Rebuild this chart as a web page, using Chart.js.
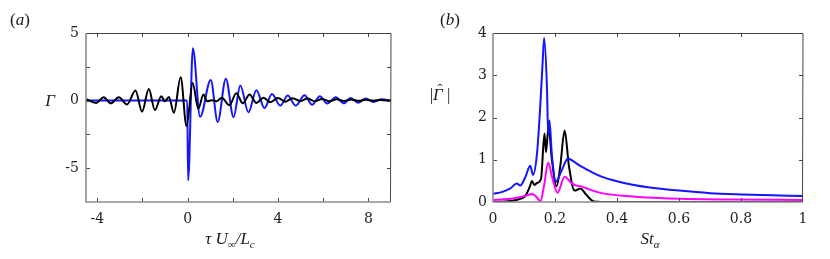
<!DOCTYPE html>
<html>
<head>
<meta charset="utf-8">
<script src="https://cdn.jsdelivr.net/npm/chart.js@4.4.0/dist/chart.umd.min.js"></script>
<style>
  html, body { margin: 0; padding: 0; background: #fff; }
  #wrap { position: relative; width: 830px; height: 259px; }
  .panel { position: absolute; top: 0; width: 415px; height: 259px; }
  #pa { left: 0; }
  #pb { left: 415px; }
</style>
</head>
<body>
<div id="wrap">
  <div class="panel" id="pa"><canvas id="chartA" width="415" height="259"></canvas></div>
  <div class="panel" id="pb"><canvas id="chartB" width="415" height="259"></canvas></div>
</div>
<script>
// (a) response in time, tau U/Lc
const tauBlack = [-4.5, -4.05, -3.72, -3.4, -3.05, -2.68, -2.31, -2.02, -1.72, -1.45, -1.17, -1.01, -0.83, -0.61,
  -0.31, -0.05, 0.22, 0.47, 0.7, 0.86, 1.08, 1.29, 1.51, 1.85, 2.15, 2.44, 2.74, 3.04, 3.36, 3.66, 4.0, 4.32,
  4.65, 4.98, 5.3, 5.62, 5.95, 6.28, 6.6, 6.92, 7.25, 7.58, 7.9, 8.22, 8.55, 8.85, 9.0];
const gammaBlack = [0.12, -0.17, 0.25, -0.2, 0.25, -0.28, 0.75, -0.82, 0.85, -0.7, 0.32, -0.05, 0.27, -0.9,
  1.72, -1.88, 1.3, -0.6, 0.45, -0.05, 0.02, -0.05, 0.22, -0.35, 0.55, -0.2, 0.45, -0.17, 0.22, -0.12, 0.2, -0.08,
  0.18, -0.05, 0.15, -0.05, 0.12, -0.04, 0.1, -0.03, 0.08, -0.02, 0.06, -0.01, 0.05, 0.0, 0.02];

const tauBlue = [-4.5, -0.02, 0.02, 0.23, 0.55, 1.02, 1.33, 1.69, 2.03, 2.33, 2.69, 3.04, 3.4, 3.73, 4.1, 4.43,
  4.78, 5.17, 5.51, 5.85, 6.18, 6.55, 6.92, 7.21, 7.54, 7.88, 8.22, 8.58, 9.0];
const gammaBlue = [0, 0, -5.9, 3.88, -1.2, 1.52, -1.58, 1.62, -1.22, 1.12, -0.87, 0.77, -0.55, 0.48, -0.37, 0.37,
  -0.37, 0.4, -0.3, 0.32, -0.22, 0.25, -0.2, 0.2, -0.15, 0.15, -0.1, 0.1, -0.02];

const xLabelsA = [-4, 0, 4, 8];
const yLabelsA = [5, 0, -5];

// (b) spectra vs St_alpha
const stBlue = [0, 0.03, 0.056, 0.077, 0.088, 0.105, 0.12, 0.129, 0.142, 0.153, 0.16, 0.165, 0.174, 0.178, 0.182,
  0.19, 0.203, 0.22, 0.242, 0.26, 0.28, 0.3, 0.32, 0.35, 0.4, 0.45, 0.5, 0.6, 0.7, 0.8, 0.9, 1.0];
const specBlue = [0.19, 0.24, 0.32, 0.44, 0.39, 0.6, 0.86, 0.64, 1.15, 2.34, 3.29, 3.88, 2.73, 1.6, 1.93,
  1.1, 0.48, 0.72, 1.03, 0.96, 0.86, 0.78, 0.7, 0.6, 0.49, 0.41, 0.35, 0.27, 0.21, 0.18, 0.16, 0.14];

const stBlack = [0, 0.04, 0.07, 0.09, 0.105, 0.118, 0.126, 0.133, 0.142, 0.155, 0.166, 0.171, 0.179, 0.19, 0.205,
  0.217, 0.231, 0.245, 0.263, 0.282, 0.3, 0.325, 0.35, 0.5, 0.75, 1.0];
const specBlack = [0, 0.01, 0.04, 0.08, 0.15, 0.35, 0.5, 0.4, 0.45, 0.55, 1.62, 1.18, 1.78, 1.0, 0.37,
  0.85, 1.69, 0.85, 0.27, 0.32, 0.18, 0.01, 0, 0, 0, 0];

const stMagenta = [0, 0.05, 0.09, 0.11, 0.126, 0.14, 0.153, 0.165, 0.178, 0.192, 0.208, 0.231, 0.25, 0.265, 0.285,
  0.31, 0.35, 0.45, 0.55, 0.75, 1.0];
const specMagenta = [0.05, 0.07, 0.12, 0.16, 0.19, 0.12, 0.02, 0.4, 0.93, 0.55, 0.22, 0.6, 0.47, 0.4, 0.37,
  0.3, 0.21, 0.13, 0.09, 0.06, 0.05];

const pts = (xs, ys) => xs.map((x, i) => ({ x: x, y: ys[i] }));

const tickFont = { family: "'DejaVu Serif', serif", size: 14 };
const mathFont = "'Liberation Serif', 'DejaVu Serif', serif";

// box with inward tick marks on all four sides
const frame = {
  id: 'frame',
  afterDatasetsDraw(chart) {
    const { ctx, chartArea: a, scales: { x, y } } = chart;
    ctx.save();
    ctx.strokeStyle = '#444';
    ctx.lineWidth = 1;
    ctx.beginPath();
    x.ticks.forEach(t => {
      const px = Math.round(x.getPixelForValue(t.value)) + 0.5;
      if (px <= a.left + 1 || px >= a.right - 1) return;
      ctx.moveTo(px, a.bottom); ctx.lineTo(px, a.bottom - 4);
      ctx.moveTo(px, a.top); ctx.lineTo(px, a.top + 4);
    });
    y.ticks.forEach(t => {
      const py = Math.round(y.getPixelForValue(t.value)) + 0.5;
      if (py <= a.top + 1 || py >= a.bottom - 1) return;
      ctx.moveTo(a.left, py); ctx.lineTo(a.left + 4, py);
      ctx.moveTo(a.right, py); ctx.lineTo(a.right - 4, py);
    });
    ctx.stroke();
    // top / right thin dark
    ctx.beginPath();
    ctx.moveTo(a.left, a.top + 0.5); ctx.lineTo(a.right, a.top + 0.5);
    ctx.lineTo(a.right - 0.5, a.bottom);
    ctx.stroke();
    // left / bottom a bit heavier, grey
    ctx.strokeStyle = '#8c8c8c';
    ctx.lineWidth = 1.6;
    ctx.beginPath();
    ctx.moveTo(a.left, a.top); ctx.lineTo(a.left, a.bottom); ctx.lineTo(a.right, a.bottom);
    ctx.stroke();
    ctx.restore();
  }
};

// runs: [text, size, italic, dy]; returns x positions of each run
function drawRuns(ctx, runs, cx, base) {
  ctx.textAlign = 'left';
  let w = 0;
  runs.forEach(r => {
    ctx.font = (r[2] ? 'italic ' : '') + r[1] + 'px ' + mathFont;
    w += ctx.measureText(r[0]).width;
  });
  let x = cx - w / 2;
  const xs = [];
  runs.forEach(r => {
    ctx.font = (r[2] ? 'italic ' : '') + r[1] + 'px ' + mathFont;
    const rw = ctx.measureText(r[0]).width;
    xs.push([x, rw]);
    ctx.fillText(r[0], x, base + r[3]);
    x += rw;
  });
  return xs;
}

function textPlugin(draw) {
  return {
    id: 'mathText',
    afterDraw(chart) {
      const ctx = chart.ctx;
      ctx.save();
      ctx.fillStyle = '#1a1a1a';
      ctx.textBaseline = 'alphabetic';
      draw(ctx);
      ctx.restore();
    }
  };
}

function makeChart(id, datasets, sx, sy, padRight, leftW, xPad, yPad, extra) {
  return new Chart(document.getElementById(id), {
    type: 'line',
    data: { datasets: datasets },
    options: {
      responsive: false,
      animation: false,
      parsing: false,
      layout: { padding: { left: 0, right: padRight, top: 33, bottom: 0 } },
      plugins: { legend: { display: false }, tooltip: { enabled: false } },
      elements: {
        point: { radius: 0 },
        line: { borderWidth: 2, cubicInterpolationMode: 'monotone' }
      },
      scales: {
        x: {
          type: 'linear', min: sx.min, max: sx.max,
          grid: { display: false, drawTicks: false },
          border: { display: false },
          ticks: {
            stepSize: sx.step, includeBounds: false, autoSkip: false, maxRotation: 0,
            padding: xPad, color: '#222', font: tickFont, callback: sx.label
          },
          afterFit: s => { s.height = 57; }
        },
        y: {
          type: 'linear', min: sy.min, max: sy.max,
          grid: { display: false, drawTicks: false },
          border: { display: false },
          ticks: {
            stepSize: sy.step, includeBounds: false, autoSkip: false,
            padding: yPad, color: '#222', font: tickFont, callback: sy.label
          },
          afterFit: s => { s.width = leftW; }
        }
      }
    },
    plugins: [frame, extra]
  });
}

makeChart('chartA', [
  { data: pts(tauBlack, gammaBlack), borderColor: '#000000' },
  { data: pts(tauBlue, gammaBlue), borderColor: '#1414ff' }
], {
  min: -4.5, max: 9, step: 2,
  label: v => (xLabelsA.includes(v) ? String(v) : '')
}, {
  min: -7.5, max: 5, step: 2.5,
  label: v => (yLabelsA.includes(v) ? String(v) : '')
}, 24, 86, 9, 7, textPlugin(ctx => {
  drawRuns(ctx, [['(', 17, false, 0], ['a', 17, true, 0], [')', 17, false, 0]], 20, 25);
  drawRuns(ctx, [['Γ', 17, true, 0]], 50, 106);
  drawRuns(ctx, [['τ U', 17, true, 0], ['∞', 11, false, 4], ['/L', 17, true, 0], ['c', 11, true, 4]], 230, 244);
}));

makeChart('chartB', [
  { data: pts(stBlue, specBlue), borderColor: '#1414ff' },
  { data: pts(stMagenta, specMagenta), borderColor: '#ff00ff' },
  { data: pts(stBlack, specBlack), borderColor: '#000000' }
], {
  min: 0, max: 1, step: 0.2,
  label: v => String(Math.round(v * 10) / 10)
}, {
  min: 0, max: 4, step: 1,
  label: v => String(v)
}, 27, 78, 9, 6, textPlugin(ctx => {
  drawRuns(ctx, [['(', 17, false, 0], ['b', 17, true, 0], [')', 17, false, 0]], 35, 25);
  const xs = drawRuns(ctx, [['|', 17, false, 0], ['Γ', 17, true, 0], [' |', 17, false, 0]], 25, 100);
  // hat centred over the Gamma (shifted a bit right for the slant)
  ctx.font = '15px ' + mathFont;
  ctx.textAlign = 'center';
  ctx.fillText('ˆ', xs[1][0] + xs[1][1] / 2 + 2, 94);
  drawRuns(ctx, [['St', 17, true, 0], ['α', 11, true, 4]], 235, 244);
}));
</script>
</body>
</html>
